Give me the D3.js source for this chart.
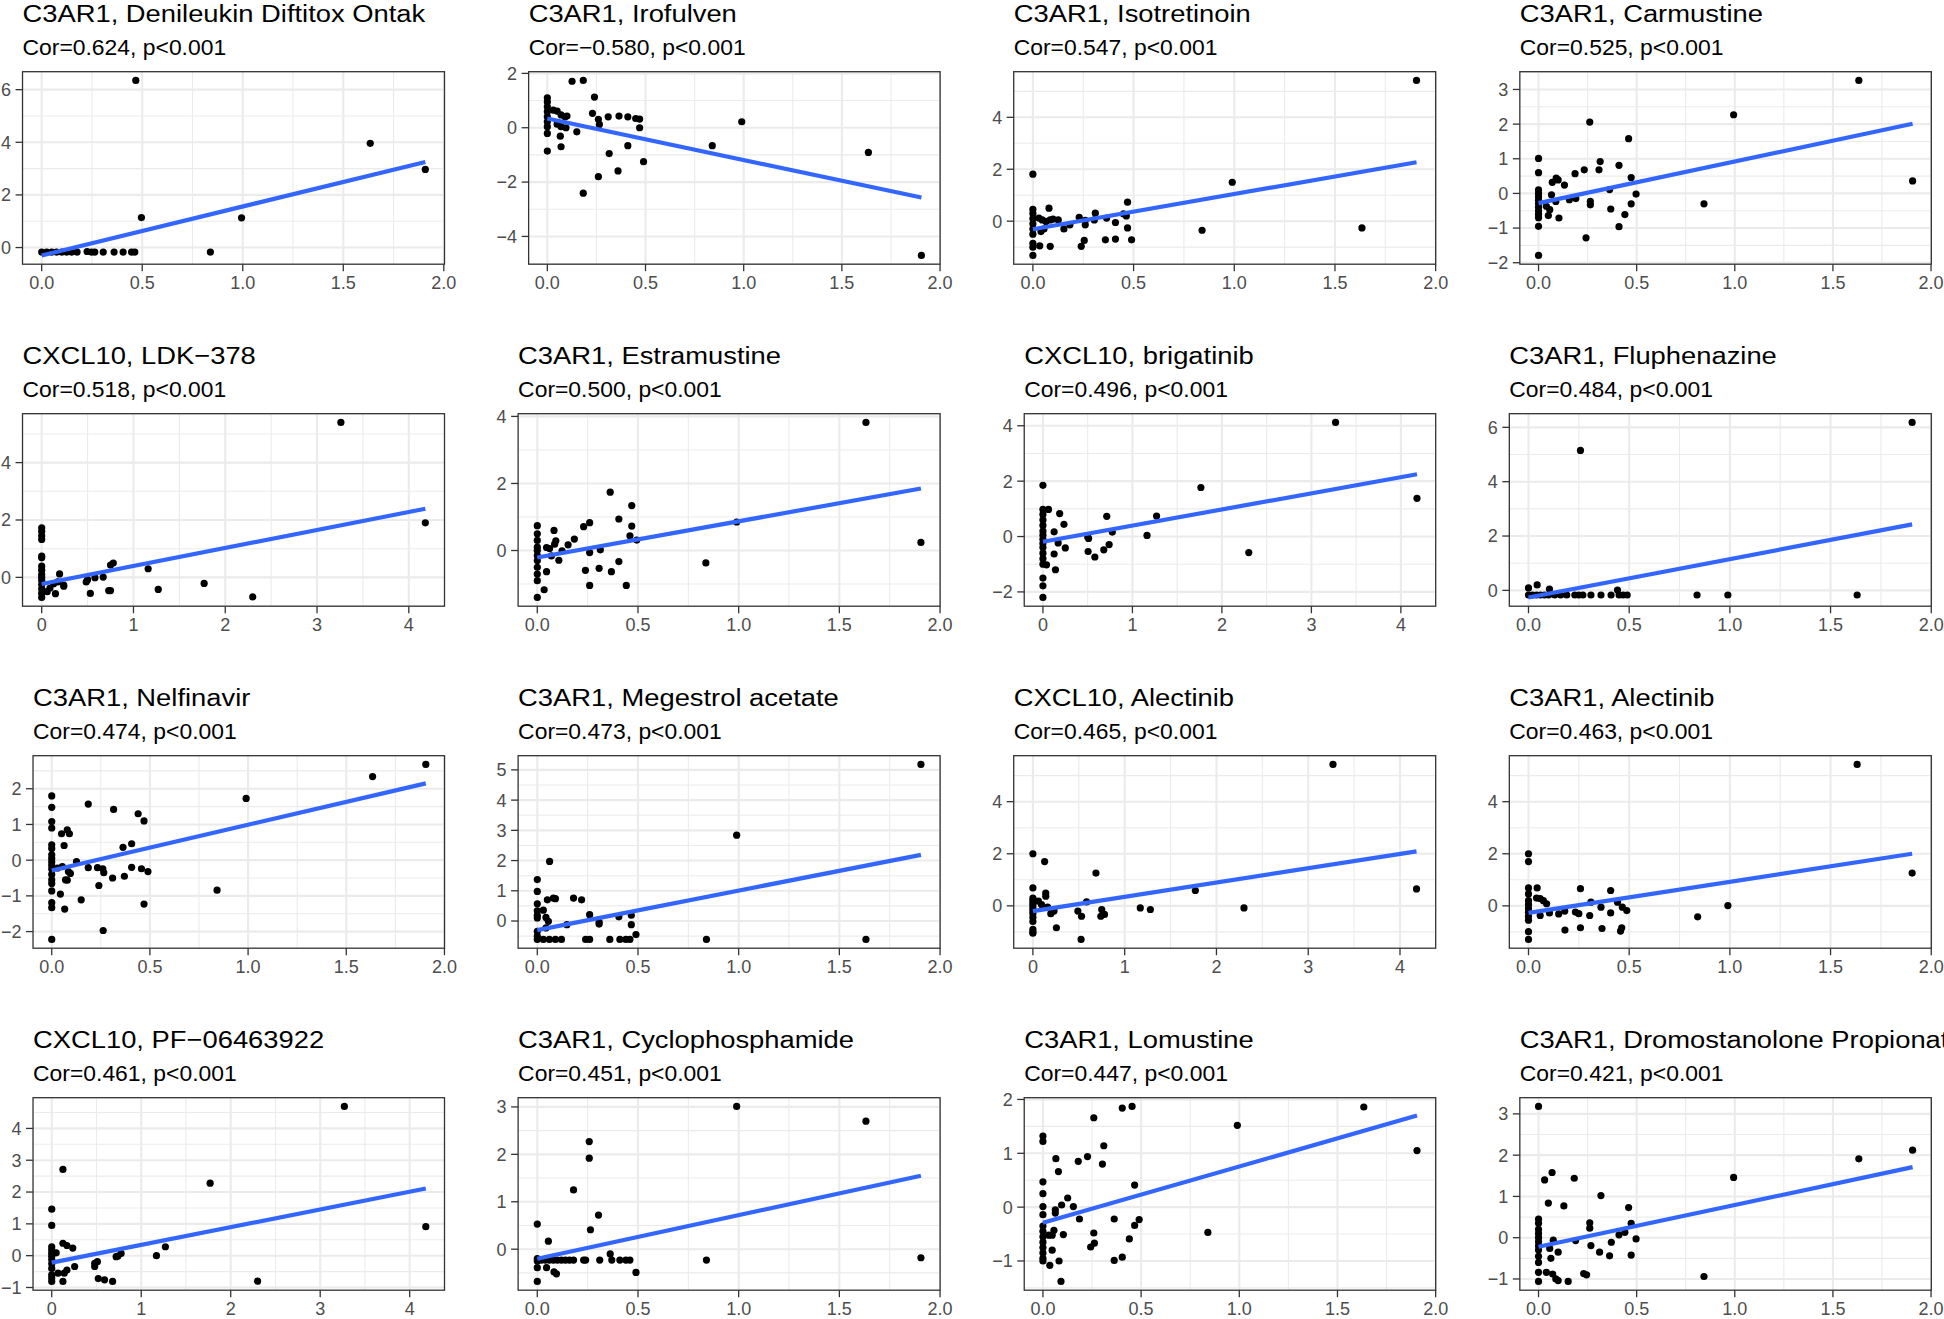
<!DOCTYPE html>
<html>
<head>
<meta charset="utf-8">
<script src="https://cdn.jsdelivr.net/npm/d3@7/dist/d3.min.js"></script>
<style>
  html, body { margin: 0; padding: 0; background: #ffffff; }
  svg { display: block; }
  text { font-family: "Liberation Sans", Arial, Helvetica, sans-serif; }
</style>
</head>
<body>
<svg id="chart" width="1944" height="1319"></svg>
<script>
// ---------------- DATA ----------------
const titles = [
  "C3AR1, Denileukin Diftitox Ontak", "C3AR1, Irofulven", "C3AR1, Isotretinoin", "C3AR1, Carmustine",
  "CXCL10, LDK\u2212378", "C3AR1, Estramustine", "CXCL10, brigatinib", "C3AR1, Fluphenazine",
  "C3AR1, Nelfinavir", "C3AR1, Megestrol acetate", "CXCL10, Alectinib", "C3AR1, Alectinib",
  "CXCL10, PF\u221206463922", "C3AR1, Cyclophosphamide", "C3AR1, Lomustine", "C3AR1, Dromostanolone Propionate"
];
const subtitles = [
  "Cor=0.624, p<0.001", "Cor=\u22120.580, p<0.001", "Cor=0.547, p<0.001", "Cor=0.525, p<0.001",
  "Cor=0.518, p<0.001", "Cor=0.500, p<0.001", "Cor=0.496, p<0.001", "Cor=0.484, p<0.001",
  "Cor=0.474, p<0.001", "Cor=0.473, p<0.001", "Cor=0.465, p<0.001", "Cor=0.463, p<0.001",
  "Cor=0.461, p<0.001", "Cor=0.451, p<0.001", "Cor=0.447, p<0.001", "Cor=0.421, p<0.001"
];
// which gene is on the x axis (decides x ticks)
const xGene = ["C3AR1","C3AR1","C3AR1","C3AR1","CXCL10","C3AR1","CXCL10","C3AR1",
               "C3AR1","C3AR1","CXCL10","C3AR1","CXCL10","C3AR1","C3AR1","C3AR1"];
const xTicksC3AR1 = [0, 0.5, 1, 1.5, 2];
const xTicksCXCL10 = [0, 1, 2, 3, 4];
const yTicks = [
  [0,2,4,6], [-4,-2,0,2], [0,2,4], [-2,-1,0,1,2,3],
  [0,2,4], [0,2,4], [-2,0,2,4], [0,2,4,6],
  [-2,-1,0,1,2], [0,1,2,3,4,5], [0,2,4], [0,2,4],
  [-1,0,1,2,3,4], [0,1,2,3], [-1,0,1,2], [-1,0,1,2,3]
];
// fitted line: y at min x, y at max x
const fitEnds = [
  [-0.30, 3.25], [0.34, -2.57], [-0.31, 2.27], [-0.28, 2.01],
  [-0.23, 2.39], [-0.21, 1.85], [-0.19, 2.25], [-0.26, 2.43],
  [-0.29, 2.15], [-0.30, 2.19], [-0.20, 2.09], [-0.27, 2.00],
  [-0.22, 2.11], [-0.20, 1.55], [-0.29, 1.70], [-0.22, 1.71]
];

const pts01 = [[0,-0.17],[0.025,-0.17],[0.05,-0.17],[0.074,-0.17],[0.1,-0.17],[0.124,-0.17],[0.149,-0.17],[0.176,-0.17],[0.226,-0.15],[0.248,-0.17],[0.264,-0.17],[0.306,-0.17],[0.36,-0.17],[0.405,-0.17],[0.447,-0.17],[0.463,-0.17],[0.468,6.35],[0.496,1.14],[0.994,1.13],[0.839,-0.17],[1.634,3.96],[1.908,2.97]];
const pts02 = [[0.126,1.71],[0.183,1.74],[0.24,1.13],[0,1.10],[0,0.95],[0,0.77],[0,0.59],[0,0.40],[0,0.22],[0,0.04],[0,-0.21],[0,-0.86],[0.03,0.65],[0.05,0.61],[0.07,0.47],[0.09,0.40],[0.1,0.43],[0.05,0.13],[0.07,0.04],[0.095,0],[0.066,-0.31],[0.07,-0.70],[0.15,-0.15],[0.23,0.53],[0.26,0.31],[0.265,0.12],[0.31,0.40],[0.365,0.43],[0.41,0.40],[0.45,0.34],[0.47,0.32],[0.47,0],[0.41,-0.66],[0.315,-0.95],[0.49,-1.25],[0.26,-1.80],[0.36,-1.59],[0.183,-2.41],[0.84,-0.66],[0.99,0.22],[1.635,-0.91],[1.905,-4.70]];
const pts03 = [[1.905,5.42],[0,1.81],[0.99,1.50],[0.47,0.73],[0.08,0.5],[1.634,-0.26],[0.84,-0.35],[0,0.46],[0,0.3],[0,0.1],[0,-0.1],[0,-0.3],[0,-0.5],[0,-0.85],[0,-1.0],[0,-1.32],[0.03,0.12],[0.046,0.05],[0.065,-0.01],[0.086,0.05],[0.1,0.08],[0.04,-0.4],[0.055,-0.3],[0.034,-0.95],[0.086,-0.97],[0.126,0.05],[0.154,-0.3],[0.184,-0.14],[0.23,0.15],[0.26,-0.14],[0.26,0.03],[0.31,0.31],[0.305,0.05],[0.366,0.12],[0.41,-0.05],[0.45,0.28],[0.464,0.2],[0.47,-0.26],[0.49,-0.72],[0.41,-0.69],[0.36,-0.72],[0.255,-0.74],[0.24,-0.97]];
const pts04 = [[1.632,3.26],[0.994,2.27],[0.261,2.06],[0.459,1.58],[0,1.01],[0.314,0.92],[0.41,0.81],[0.233,0.68],[0.308,0.68],[0.186,0.57],[0,0.60],[1.906,0.36],[0.472,0.46],[0.09,0.44],[0.1,0.39],[0.07,0.32],[0.132,0.24],[0,0.1],[0,0],[0,-0.1],[0,-0.2],[0,-0.3],[0,-0.4],[0,-0.5],[0,-0.6],[0,-0.7],[0,-0.95],[0,-1.79],[0.066,-0.04],[0.04,-0.37],[0.057,-0.47],[0.05,-0.64],[0.104,-0.71],[0.088,-0.23],[0.157,-0.18],[0.19,-0.15],[0.264,-0.23],[0.264,-0.33],[0.362,0.11],[0.368,-0.45],[0.472,-0.3],[0.497,-0.02],[0.44,-0.61],[0.41,-0.96],[0.242,-1.28],[0.843,-0.3]];
const pts05 = [[3.26,5.40],[4.18,1.90],[0,1.73],[0,1.6],[0,1.45],[0,1.32],[0,0.74],[0,0.68],[0,0.39],[0,0.25],[0,0.1],[0,0],[0,-0.1],[0,-0.25],[0,-0.4],[0,-0.55],[0,-0.7],[0.78,0.50],[0.75,0.43],[1.16,0.30],[0.195,0.12],[0.5,-0.08],[0.485,-0.16],[0.58,-0.01],[0.67,0.01],[0.53,-0.56],[0.73,-0.46],[0.75,-0.46],[1.27,-0.42],[1.77,-0.21],[2.30,-0.68],[0.15,-0.57],[0.24,-0.31],[0.24,-0.27],[0.09,-0.37],[0.06,-0.5],[0.175,-0.16],[0.13,-0.22]];
const pts06 = [[1.632,3.82],[0.362,1.74],[0.469,1.34],[0.405,0.94],[0.99,0.85],[0.26,0.83],[0.23,0.71],[0.469,0.73],[0.083,0.6],[0,0.74],[0,0.5],[0,0.3],[0,0.1],[0,0],[0,-0.15],[0,-0.3],[0,-0.5],[0,-0.7],[0,-0.9],[0,-1.40],[1.905,0.24],[0.46,0.44],[0.494,0.31],[0.184,0.34],[0.153,0.17],[0.092,0.29],[0.086,0.19],[0.123,-0.01],[0.046,0.09],[0.061,0.06],[0.07,-0.16],[0.107,-0.29],[0.046,-0.63],[0.034,-1.17],[0.26,-0.06],[0.313,0.02],[0.239,-0.59],[0.307,-0.53],[0.368,-0.63],[0.405,-0.33],[0.26,-1.04],[0.442,-1.04],[0.837,-0.37]];
const pts07 = [[3.27,4.12],[4.18,1.38],[1.765,1.77],[0,1.85],[0.062,0.98],[0.187,0.83],[0.713,0.73],[1.27,0.74],[0.235,0.44],[0.125,0.17],[0.775,0.16],[1.163,0.04],[0.5,-0.02],[0.51,-0.07],[2.30,-0.58],[0.505,-0.54],[0.58,-0.74],[0.68,-0.48],[0.74,-0.29],[0.25,-0.41],[0.125,-0.63],[0.14,-1.2],[0,0.98],[0,0.8],[0,0.6],[0,0.4],[0,0.2],[0,0.05],[0,-0.1],[0,-0.25],[0,-0.4],[0,-0.6],[0,-0.8],[0,-1.0],[0,-1.5],[0,-1.78],[0,-2.2],[0.04,-1.02],[0.17,-0.23]];
const pts08 = [[1.905,6.18],[0.258,5.15],[0.043,0.2],[0,0.09],[0.104,0.05],[0.442,0.01],[0,-0.17],[0.02,-0.17],[0.04,-0.17],[0.06,-0.17],[0.08,-0.17],[0.1,-0.17],[0.13,-0.17],[0.16,-0.17],[0.19,-0.17],[0.23,-0.17],[0.25,-0.17],[0.27,-0.17],[0.31,-0.17],[0.36,-0.17],[0.41,-0.17],[0.45,-0.17],[0.47,-0.17],[0.49,-0.17],[0.837,-0.17],[0.99,-0.17],[1.632,-0.17]];
const pts09 = [[1.905,2.68],[1.634,2.34],[0.99,1.73],[0,1.80],[0,1.48],[0.186,1.57],[0.315,1.42],[0.44,1.30],[0.47,1.10],[0,1.08],[0,0.9],[0.079,0.85],[0.09,0.74],[0.05,0.74],[0.063,0.41],[0.407,0.46],[0.363,0.36],[0,0.43],[0,0.33],[0,0.15],[0,0.05],[0,-0.05],[0,-0.15],[0,-0.25],[0,-0.4],[0,-0.55],[0,-0.65],[0,-0.86],[0,-1.19],[0,-1.33],[0.03,-0.22],[0.054,-0.18],[0.085,-0.32],[0.095,-0.37],[0.07,-0.55],[0.079,-0.56],[0.126,-0.04],[0.044,-0.95],[0.15,-1.11],[0.066,-1.37],[0.186,-0.21],[0.233,-0.21],[0.26,-0.24],[0.265,-0.35],[0.31,-0.5],[0.37,-0.45],[0.407,-0.2],[0.457,-0.24],[0.49,-0.32],[0.24,-0.71],[0.47,-1.23],[0.262,-1.97],[0,-2.22],[0.842,-0.84]];
const pts10 = [[1.905,5.18],[0.99,2.84],[0.061,1.97],[0,1.37],[0,0.98],[0,0.57],[0,0.34],[0,0.19],[0,0.1],[0.03,0.36],[0.05,0.70],[0.08,0.76],[0.09,0.74],[0.18,0.76],[0.22,0.70],[0.043,0.12],[0.055,-0.01],[0,-0.34],[0,-0.5],[0,-0.61],[0.03,-0.61],[0.06,-0.61],[0.09,-0.61],[0.12,-0.61],[0.24,-0.61],[0.26,-0.61],[0.36,-0.61],[0.41,-0.61],[0.44,-0.61],[0.46,-0.61],[0.84,-0.61],[1.632,-0.61],[0.147,-0.12],[0.26,0.21],[0.307,-0.04],[0.307,-0.1],[0.405,0.14],[0.467,0.19],[0.467,-0.12],[0.49,-0.45],[0.043,-0.23]];
const pts11 = [[3.27,5.43],[0,2.0],[0.128,1.70],[0.687,1.26],[4.18,0.65],[1.77,0.59],[0,0.69],[0.14,0.49],[0.14,0.37],[0.585,0.15],[0,0.3],[0,0.2],[0,0.1],[0,0],[0,-0.1],[0,-0.2],[0,-0.3],[0,-0.45],[0,-0.6],[0,-0.9],[0,-1.0],[0,-1.05],[0.06,0.18],[0.094,0.05],[0.16,-0.05],[0.195,-0.3],[0.23,-0.2],[0.256,-0.84],[0.49,-0.2],[0.53,-0.4],[0.75,-0.14],[0.78,-0.33],[0.74,-0.4],[0.525,-1.29],[1.17,-0.08],[1.28,-0.14],[2.30,-0.08]];
const pts12 = [[1.632,5.43],[1.905,1.26],[0,2.0],[0,1.70],[0,0.69],[0,0.46],[0.043,0.69],[0.258,0.66],[0.408,0.59],[0.04,0.3],[0.058,0.28],[0.074,0.2],[0.09,0.08],[0,0.2],[0,0.05],[0,-0.1],[0,-0.25],[0,-0.4],[0,-0.55],[0,-0.99],[0,-1.29],[0.058,-0.37],[0.104,-0.27],[0.15,-0.31],[0.18,-0.2],[0.181,-0.93],[0.233,-0.24],[0.25,-0.3],[0.258,-0.84],[0.31,0.14],[0.304,-0.37],[0.36,-0.05],[0.365,-0.87],[0.408,-0.27],[0.442,0.14],[0.466,-0.05],[0.488,-0.18],[0.463,-0.84],[0.457,-0.97],[0.84,-0.42],[0.99,0.01]];
const pts13 = [[3.27,4.69],[0.125,2.71],[1.77,2.28],[0,1.46],[0,0.95],[4.18,0.91],[1.27,0.28],[1.17,0.0],[0.125,0.39],[0.17,0.32],[0.235,0.24],[0.775,0.07],[0.74,-0.01],[0.72,-0.03],[0,0.28],[0,0.18],[0,0.08],[0,-0.02],[0,-0.12],[0,-0.25],[0,-0.4],[0,-0.6],[0,-0.7],[0,-0.81],[0.05,0.09],[0.07,-0.55],[0.256,-0.34],[0.17,-0.45],[0.14,-0.55],[0.125,-0.81],[0.48,-0.24],[0.51,-0.19],[0.48,-0.34],[0.52,-0.72],[0.59,-0.76],[0.68,-0.81],[2.30,-0.80]];
const pts14 = [[0.99,3.01],[1.632,2.70],[0.258,2.27],[0.258,1.92],[0.18,1.25],[0.304,0.72],[0.264,0.41],[0,0.53],[0.055,0.17],[0,-0.2],[0,-0.25],[0,-0.39],[0,-0.68],[0.02,-0.23],[0.04,-0.23],[0.06,-0.23],[0.08,-0.23],[0.1,-0.23],[0.12,-0.23],[0.14,-0.23],[0.16,-0.23],[0.18,-0.23],[0.23,-0.23],[0.24,-0.23],[0.31,-0.23],[0.37,-0.23],[0.41,-0.23],[0.44,-0.23],[0.46,-0.23],[0.84,-0.23],[1.905,-0.18],[0.046,-0.39],[0.083,-0.48],[0.095,-0.52],[0.362,-0.10],[0.49,-0.49]];
const pts15 = [[1.634,1.86],[0.454,1.87],[0.404,1.84],[0.259,1.66],[0.99,1.52],[0,1.32],[0,1.22],[0.31,1.14],[1.905,1.05],[0.227,0.94],[0.066,0.90],[0.18,0.85],[0.303,0.80],[0.079,0.66],[0,0.47],[0,0.25],[0,0.01],[0,-0.14],[0.467,0.41],[0.126,0.17],[0.095,0.04],[0.155,0.01],[0.063,-0.05],[0.063,-0.11],[0.186,-0.22],[0.363,-0.22],[0.49,-0.23],[0.467,-0.34],[0,-0.35],[0,-0.45],[0,-0.55],[0,-0.65],[0,-0.75],[0,-0.85],[0,-0.95],[0,-1.0],[0.03,-0.52],[0.047,-0.52],[0.056,-0.43],[0.104,-0.51],[0.047,-0.8],[0.082,-1.0],[0.035,-1.08],[0.092,-1.38],[0.259,-0.48],[0.262,-0.67],[0.243,-0.74],[0.44,-0.59],[0.363,-0.99],[0.404,-0.93],[0.84,-0.47]];
const pts16 = [[0,3.18],[1.906,2.12],[1.632,1.91],[0.994,1.46],[0.069,1.58],[0.031,1.40],[0.182,1.44],[0.318,1.02],[0.05,0.84],[0.129,0.77],[0.459,0.73],[0,0.45],[0,0.35],[0,0.2],[0,0.1],[0,0],[0,-0.1],[0,-0.2],[0,-0.3],[0,-0.45],[0,-0.6],[0,-0.84],[0,-1.06],[0.261,0.36],[0.261,0.23],[0.472,0.35],[0.44,0.13],[0.41,0.07],[0.497,-0.03],[0.075,-0.06],[0.189,-0.07],[0.371,-0.11],[0.057,-0.26],[0.1,-0.35],[0.267,-0.19],[0.311,-0.35],[0.362,-0.44],[0.472,-0.42],[0.063,-0.5],[0.04,-0.84],[0.072,-0.88],[0.088,-1.0],[0.1,-1.04],[0.151,-1.06],[0.23,-0.87],[0.245,-0.9],[0.843,-0.94]];

const allPoints = [pts01, pts02, pts03, pts04, pts05, pts06, pts07, pts08,
                   pts09, pts10, pts11, pts12, pts13, pts14, pts15, pts16];

// ---------------- LAYOUT / STYLE ----------------
const colPitch = 495.6, rowPitch = 342;
const firstTop = 71.7, panelH = 192.5, rightOffset = 443.5;
const axisFont = 18, titleFont = 24.6, subFont = 21.4;
const titleSX = 1.112, subSX = 1.07;
const tickLen = 7, tickGap = 4.5;

const svg = d3.select("#chart");
svg.append("rect").attr("width", 1944).attr("height", 1319).attr("fill", "#ffffff");

const measurer = svg.append("text").attr("font-size", axisFont).attr("visibility", "hidden");
function textW(s) { measurer.text(s); return measurer.node().getComputedTextLength(); }

function expand(lo, hi) { const d = (hi - lo) * 0.05; return [lo - d, hi + d]; }
function minorsOf(ticks, dom) {
  const out = [];
  const step = ticks.length > 1 ? ticks[1] - ticks[0] : 1;
  const ext = [ticks[0] - step].concat(ticks, [ticks[ticks.length - 1] + step]);
  for (let i = 0; i < ext.length - 1; i++) {
    const m = (ext[i] + ext[i + 1]) / 2;
    if (m >= dom[0] && m <= dom[1]) out.push(m);
  }
  return out;
}

const yFmt = d3.format("d");

allPoints.forEach((pts, i) => {
  const r = Math.floor(i / 4), c = i % 4;
  const cellX = 1 + c * colPitch;
  const top = firstTop + r * rowPitch;
  const bottom = top + panelH;
  const right = cellX + rightOffset;

  const isC3 = xGene[i] === "C3AR1";
  const xTicks = isC3 ? xTicksC3AR1 : xTicksCXCL10;
  const xFmt = isC3 ? d3.format(".1f") : d3.format("d");
  const yt = yTicks[i];

  const yLabels = yt.map(v => yFmt(v));
  const maxW = d3.max(yLabels, s => textW(s));
  const left = cellX + maxW + tickGap + tickLen;

  const xs = pts.map(p => p[0]), ys = pts.map(p => p[1]).concat(fitEnds[i]);
  const xMin = d3.min(xs), xMax = d3.max(xs);
  const xDom = expand(xMin, xMax);
  const yDom = expand(d3.min(ys), d3.max(ys));

  const x = d3.scaleLinear().domain(xDom).range([left, right]);
  const y = d3.scaleLinear().domain(yDom).range([bottom, top]);

  const g = svg.append("g");

  // grid
  const grid = g.append("g");
  minorsOf(xTicks, xDom).forEach(v => grid.append("line")
    .attr("x1", x(v)).attr("x2", x(v)).attr("y1", top).attr("y2", bottom)
    .attr("stroke", "#EBEBEB").attr("stroke-width", 1.1));
  minorsOf(yt, yDom).forEach(v => grid.append("line")
    .attr("y1", y(v)).attr("y2", y(v)).attr("x1", left).attr("x2", right)
    .attr("stroke", "#EBEBEB").attr("stroke-width", 1.1));
  xTicks.filter(v => v >= xDom[0] && v <= xDom[1]).forEach(v => grid.append("line")
    .attr("x1", x(v)).attr("x2", x(v)).attr("y1", top).attr("y2", bottom)
    .attr("stroke", "#EBEBEB").attr("stroke-width", 2.1));
  yt.forEach(v => grid.append("line")
    .attr("y1", y(v)).attr("y2", y(v)).attr("x1", left).attr("x2", right)
    .attr("stroke", "#EBEBEB").attr("stroke-width", 2.1));

  // points
  g.append("g").selectAll("circle").data(pts).join("circle")
    .attr("cx", d => x(d[0])).attr("cy", d => y(d[1]))
    .attr("r", 3.6).attr("fill", "#000000");

  // fitted line
  const fit = [[xMin, fitEnds[i][0]], [xMax, fitEnds[i][1]]];
  g.append("path")
    .attr("d", d3.line().x(d => x(d[0])).y(d => y(d[1]))(fit))
    .attr("fill", "none").attr("stroke", "#3366FF").attr("stroke-width", 4.2);

  // border
  g.append("rect").attr("x", left).attr("y", top)
    .attr("width", right - left).attr("height", bottom - top)
    .attr("fill", "none").attr("stroke", "#333333").attr("stroke-width", 1.3);

  // x axis ticks + labels
  xTicks.filter(v => v >= xDom[0] - 1e-9 && v <= xDom[1] + 1e-9).forEach(v => {
    g.append("line").attr("x1", x(v)).attr("x2", x(v))
      .attr("y1", bottom).attr("y2", bottom + tickLen)
      .attr("stroke", "#333333").attr("stroke-width", 1.3);
    g.append("text").attr("x", x(v)).attr("y", bottom + 24.5)
      .attr("text-anchor", "middle").attr("font-size", axisFont).attr("fill", "#4D4D4D")
      .text(xFmt(v));
  });
  // y axis ticks + labels
  yt.forEach((v, k) => {
    g.append("line").attr("x1", left - tickLen).attr("x2", left)
      .attr("y1", y(v)).attr("y2", y(v))
      .attr("stroke", "#333333").attr("stroke-width", 1.3);
    g.append("text").attr("x", left - tickLen - tickGap).attr("y", y(v) + 6.4)
      .attr("text-anchor", "end").attr("font-size", axisFont).attr("fill", "#4D4D4D")
      .text(yLabels[k]);
  });

  // titles
  g.append("text").attr("transform", `translate(${left},${top - 49.4}) scale(${titleSX},1)`)
    .attr("font-size", titleFont).attr("fill", "#000000").text(titles[i]);
  g.append("text").attr("transform", `translate(${left},${top - 16.7}) scale(${subSX},1)`)
    .attr("font-size", subFont).attr("fill", "#000000").text(subtitles[i]);
});
measurer.remove();
</script>
</body>
</html>
